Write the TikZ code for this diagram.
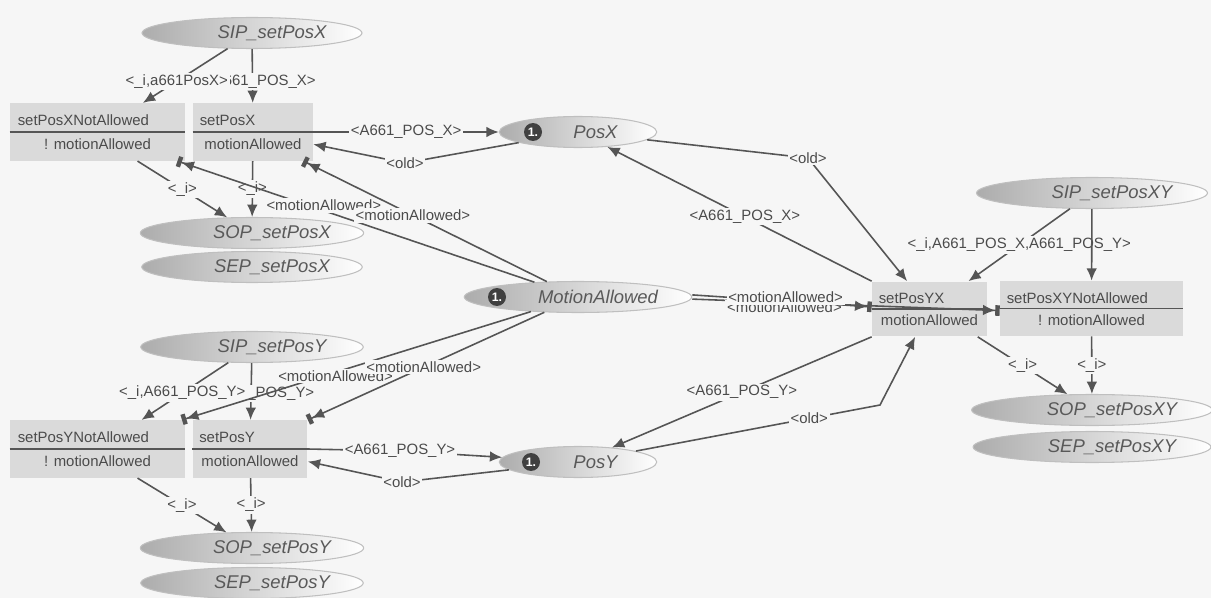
\documentclass[tikz,border=0pt]{standalone}
\usepackage{fontspec}
\setmainfont{Liberation Sans}
\usetikzlibrary{shapes.geometric,arrows.meta,positioning}

\definecolor{ink}{HTML}{555555}
\definecolor{inscr}{HTML}{4B4B4B}
\definecolor{transfill}{HTML}{DADADA}
\definecolor{paper}{HTML}{F6F6F6}

\tikzset{
  pnplace/.style={ellipse, inner sep=0pt, minimum height=0.62cm, draw=gray!50, line width=0.6pt,
    left color=gray!65, middle color=gray!30, right color=white,
    font=\fontsize{10.5}{12}\selectfont\itshape, text=gray!70!black},
  pntrans/.style={rectangle, fill=transfill, inner sep=0pt, minimum height=1.15cm},
  tname/.style={inner sep=1pt, font=\fontsize{8.5}{10}\selectfont, text=inscr},
  token/.style={circle, fill=gray!50!black, text=white, inner sep=0pt, minimum size=0.36cm,
    font=\fontsize{7}{8}\selectfont\bfseries},
  cpnarc/.style={draw=ink, line width=0.9pt, -{Latex[length=7pt,width=6pt]}},
  readarc/.style={draw=ink, line width=0.9pt, -{Latex[length=7pt,width=6pt]Rectangle[length=2.5pt,width=6pt]}},
  lbl/.style={fill=paper, inner sep=1pt, font=\fontsize{8.5}{10}\selectfont, text=inscr},
  divider/.style={draw=ink, line width=0.8pt}
}

\begin{document}
\begin{tikzpicture}[x=0.02cm,y=-0.02cm]
  \fill[paper] (0,0) rectangle (1211,598);
  \useasboundingbox (0,0) rectangle (1211,598);

  % places
  \node[pnplace, minimum width=4.4cm]  (sipx)  at (252,33)   {\hspace*{0.8cm}SIP\_setPosX};
  \node[pnplace, minimum width=4.4cm]  (sopx)  at (252,233)  {\hspace*{0.8cm}SOP\_setPosX};
  \node[pnplace, minimum width=4.4cm]  (sepx)  at (252,267)  {\hspace*{0.8cm}SEP\_setPosX};
  \node[pnplace, minimum width=4.45cm] (sipy)  at (252,347)  {\hspace*{0.8cm}SIP\_setPosY};
  \node[pnplace, minimum width=4.45cm] (sopy)  at (252,548)  {\hspace*{0.8cm}SOP\_setPosY};
  \node[pnplace, minimum width=4.45cm] (sepy)  at (252,583)  {\hspace*{0.8cm}SEP\_setPosY};
  \node[pnplace, minimum width=3.15cm] (posx)  at (578,132)  {\hspace*{0.7cm}PosX};
  \node[pnplace, minimum width=4.55cm] (mot)   at (578,297)  {\hspace*{0.8cm}MotionAllowed};
  \node[pnplace, minimum width=3.15cm] (posy)  at (578,462)  {\hspace*{0.7cm}PosY};
  \node[pnplace, minimum width=4.62cm] (sipxy) at (1092,193) {\hspace*{0.8cm}SIP\_setPosXY};
  \node[pnplace, minimum width=4.62cm] (sopxy) at (1092,410) {\hspace*{0.8cm}SOP\_setPosXY};
  \node[pnplace, minimum width=4.62cm] (sepxy) at (1092,447) {\hspace*{0.8cm}SEP\_setPosXY};
  \node[token] (tokx) at (533,132) {1.};
  \node[token] (tokm) at (497,297) {1.};
  \node[token] (toky) at (531,462) {1.};

  % transitions
  \node[pntrans, minimum width=3.5cm]  (tnx)  at (97.5,132)    {};
  \node[pntrans, minimum width=2.4cm]  (tx)   at (253,132)     {};
  \node[pntrans, minimum width=3.5cm]  (tny)  at (97.5,449)    {};
  \node[pntrans, minimum width=2.3cm]  (ty)   at (250,449)     {};
  \node[pntrans, minimum width=2.3cm, minimum height=1.1cm]  (tyx)  at (929.5,309)  {};
  \node[pntrans, minimum width=3.66cm, minimum height=1.1cm] (tnxy) at (1091.5,308.5) {};
  \foreach \t in {tnx,tx,tny,ty,tyx,tnxy}
    \draw[divider] (\t.west) -- (\t.east);
  \node[tname, above right=0.08cm and 0.12cm of tnx.west]  (tnx-n)  {setPosXNotAllowed};
  \node[tname, below=0.1cm of tnx.center]                  (tnx-g)  {! motionAllowed};
  \node[tname, above right=0.08cm and 0.1cm of tx.west]    (tx-n)   {setPosX};
  \node[tname, below=0.1cm of tx.center]                   (tx-g)   {motionAllowed};
  \node[tname, above right=0.08cm and 0.12cm of tny.west]  (tny-n)  {setPosYNotAllowed};
  \node[tname, below=0.1cm of tny.center]                  (tny-g)  {! motionAllowed};
  \node[tname, above right=0.08cm and 0.1cm of ty.west]    (ty-n)   {setPosY};
  \node[tname, below=0.1cm of ty.center]                   (ty-g)   {motionAllowed};
  \node[tname, above right=0.06cm and 0.1cm of tyx.west]   (tyx-n)  {setPosYX};
  \node[tname, below=0.08cm of tyx.center]                 (tyx-g)  {motionAllowed};
  \node[tname, above right=0.06cm and 0.1cm of tnxy.west]  (tnxy-n) {setPosXYNotAllowed};
  \node[tname, below=0.08cm of tnxy.center]                (tnxy-g) {! motionAllowed};

  % setPosX
  \draw[cpnarc] (sipx) -- node[lbl, pos=0.6] {<\_i,A661\_POS\_X>} (tx);
  \draw[cpnarc] (sipx) -- node[lbl, pos=0.6] {<\_i,a661PosX>} (tnx);
  \draw[cpnarc] (tnx.-36) -- node[lbl] {<\_i>} (sopx);
  \draw[cpnarc] (tx) -- node[lbl] {<\_i>} (sopx);
  \draw[cpnarc] (tx.east) -- node[lbl] {<A661\_POS\_X>} (posx.west);
  \coordinate (oldx) at (405,163);
  \draw[cpnarc] (posx) -- (oldx) node[lbl] {<old>} -- (tx);

  % setPosY
  \draw[cpnarc] (sipy) -- node[lbl, pos=0.53] {<\_i,A661\_POS\_Y>} (ty);
  \draw[cpnarc] (sipy) -- node[lbl, pos=0.53] {<\_i,A661\_POS\_Y>} (tny);
  \draw[cpnarc] (tny.-36) -- node[lbl] {<\_i>} (sopy);
  \draw[cpnarc] (ty) -- node[lbl] {<\_i>} (sopy);
  \coordinate (posyl) at (400,451);
  \draw[cpnarc] (ty.east) -- (posyl) node[lbl] {<A661\_POS\_Y>} -- (posy);
  \coordinate (oldy) at (402,482);
  \draw[cpnarc] (posy) -- (oldy) node[lbl] {<old>} -- (ty);

  % MotionAllowed read arcs
  \draw[readarc] (mot) -- node[lbl, pos=0.59, yshift=3pt] {<motionAllowed>} (tnx.-20);
  \draw[readarc] (mot) -- node[lbl, pos=0.55] {<motionAllowed>} (tx.-30);
  \draw[readarc] (mot) -- node[lbl, pos=0.56, yshift=-2pt] {<motionAllowed>} (tny.19);
  \draw[readarc] (mot) -- node[lbl, pos=0.51] {<motionAllowed>} (ty.north east);
  \draw[readarc] ([yshift=-1.2pt]mot.east) -- node[lbl, pos=0.3, yshift=-2.5pt] {<motionAllowed>} ([yshift=-1.2pt]tnxy.west);
  \draw[readarc] ([yshift=1.2pt]mot.east) -- node[lbl, pos=0.52, yshift=2pt] {<motionAllowed>} ([yshift=1.2pt]tyx.west);

  % setPosYX
  \coordinate (oldxy) at (808,158);
  \draw[cpnarc] (posx) -- (oldxy) node[lbl] {<old>} -- (tyx);
  \draw[cpnarc] (tyx.north west) -- node[lbl, pos=0.48] {<A661\_POS\_X>} (posx);
  \draw[cpnarc] (tyx.south west) -- node[lbl, pos=0.5] {<A661\_POS\_Y>} (posy);
  \coordinate (bendy) at (880,405);
  \draw[cpnarc] (posy) -- node[lbl, pos=0.71] {<old>} (bendy) -- (tyx);

  % setPosXY
  \draw[cpnarc] (sipxy) -- node[lbl] {<\_i,A661\_POS\_X,A661\_POS\_Y>} (tyx);
  \draw[cpnarc] (sipxy) -- (tnxy);
  \draw[cpnarc] (tyx.-30) -- node[lbl] {<\_i>} (sopxy);
  \draw[cpnarc] (tnxy) -- node[lbl] {<\_i>} (sopxy);
\end{tikzpicture}
\end{document}
